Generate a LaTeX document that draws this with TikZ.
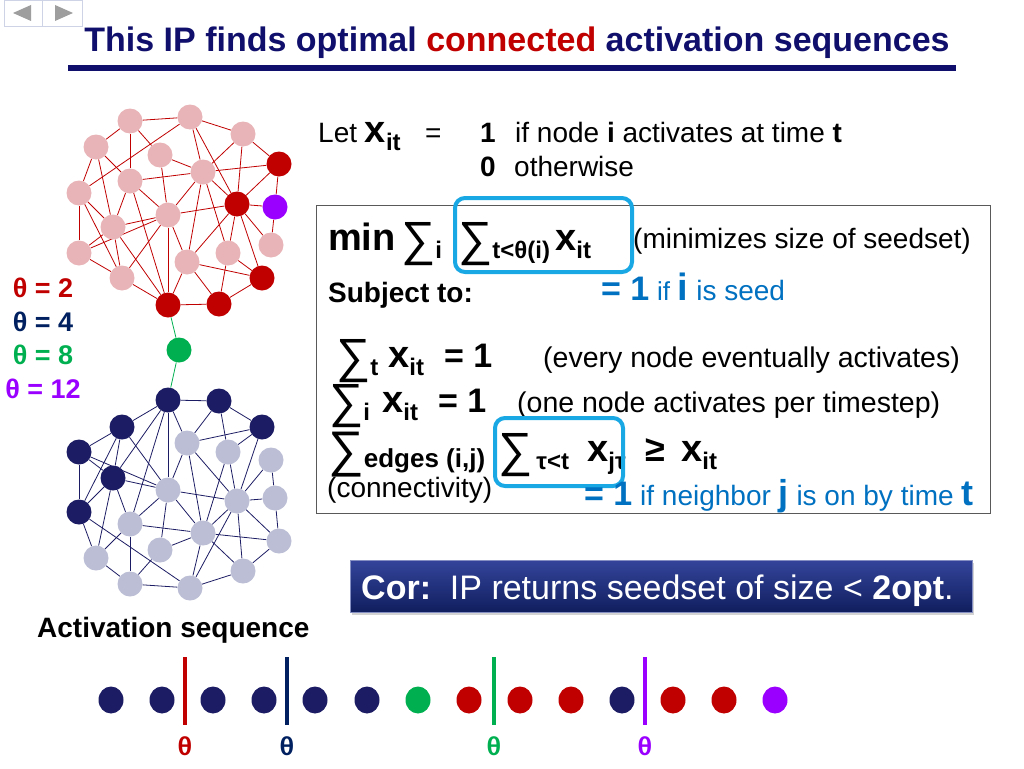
\documentclass[tikz,border=0pt]{standalone}
\usepackage{fontspec}
\setmainfont{Liberation Sans}
\newfontfamily\monof{Liberation Mono}
\usetikzlibrary{shadows,shapes.geometric}
\pgfdeclarelayer{bg}
\pgfsetlayers{bg,main}
\definecolor{navyT}{HTML}{10106C}
\definecolor{redC}{HTML}{C00000}
\definecolor{navyN}{HTML}{1C1C64}
\definecolor{navyL}{HTML}{002060}
\definecolor{greenC}{HTML}{00B050}
\definecolor{purpC}{HTML}{9900FF}
\definecolor{pinkN}{HTML}{E8B4B8}
\definecolor{grayN}{HTML}{BCBED6}
\definecolor{blueT}{HTML}{0070C0}
\definecolor{cyanB}{HTML}{1AA8E4}
\definecolor{navBd}{HTML}{CFD3E6}
\definecolor{corTop}{HTML}{34449A}
\definecolor{corBot}{HTML}{101E5E}
\newcommand\FS[1]{\fontsize{#1}{#1}\selectfont}
\newcommand\SumG{\raisebox{-5pt}{\FS{48}∑}}
\newcommand\XB{{\FS{38}\bfseries x}}
\newcommand\Sb[1]{\raisebox{-8pt}{\FS{24}\bfseries #1}}
\begin{document}
\begin{tikzpicture}[x=1pt,y=-1pt,
  tx/.style={inner sep=0pt, anchor=base west},
  nd/.style={circle, minimum size=25pt, inner sep=0pt},
  topedge/.style={draw=redC, line width=0.8pt},
  botedge/.style={draw=navyN, line width=0.8pt},
  dotn/.style={ellipse, minimum width=25pt, minimum height=27pt, inner sep=0pt},
  cyanbox/.style={draw=cyanB, line width=4pt, rounded corners=10pt},
  boxline/.style={draw=black!65, line width=1pt},
  legend/.style={anchor=base, inner sep=0pt, font=\FS{27}\bfseries},
  thlab/.style={anchor=base, inner sep=0pt, font=\monof\bfseries\FS{26}},
  bar/.style={line width=4.5pt}]
\useasboundingbox (0,0) rectangle (1024,768);
% nav buttons
\draw[navBd, fill=white] (4,0) rectangle (42,26);
\draw[navBd, fill=white] (42,0) rectangle (82,26);
\fill[black!38] (13,13) -- (31,5) -- (31,21) -- cycle;
\fill[black!38] (73,13) -- (55,5) -- (55,21) -- cycle;
% title
\node[anchor=base, inner sep=0pt, font=\FS{34}\bfseries, text=navyT] (title) at (517,52)
  {This IP finds optimal \textcolor{redC}{connected} activation sequences};
\draw[navyT, line width=6pt] (68,68) -- (956,68);
% networks
\foreach \n/\x/\y/\ct/\cb in {1/168/400/redC/navyN, 2/219/401/redC/navyN, 3/262/427/redC/navyN,
  4/122/427/pinkN/navyN, 5/79/452/pinkN/navyN, 6/113/478/pinkN/navyN, 7/79/512/pinkN/navyN,
  8/187/443/pinkN/grayN, 9/228/452/pinkN/grayN, 10/271/460/pinkN/grayN, 11/168/490/pinkN/grayN,
  12/237/501/redC/grayN, 13/275/498/purpC/grayN, 14/130/524/pinkN/grayN, 15/203/533/pinkN/grayN,
  16/160/550/pinkN/grayN, 17/279/541/redC/grayN, 18/96/558/pinkN/grayN, 19/243/571/pinkN/grayN,
  20/130/584/pinkN/grayN, 21/190/588/pinkN/grayN}
{
  \node[nd, fill=\cb] (b\n) at (\x,\y) {};
  \node[nd, fill=\ct] (t\n) at (\x,{705-\y}) {};
}
\node[nd, fill=greenC] (gr) at (179,350) {};
\begin{pgfonlayer}{bg}
\foreach \a/\b in {1/2,1/4,1/6,1/11,1/8,1/14,2/3,2/8,2/9,3/8,3/9,3/12,4/5,4/6,4/11,4/7,
  5/6,5/7,5/11,6/7,6/11,6/14,6/18,7/18,7/21,8/12,8/15,8/11,9/12,9/15,10/12,10/13,
  11/12,11/15,11/16,11/14,12/13,12/15,12/17,12/19,12/21,13/17,14/15,14/20,14/18,
  15/16,15/17,15/19,15/21,16/20,17/19,18/20,19/21,20/21}
{
  \draw[topedge] (t\a) -- (t\b);
  \draw[botedge] (b\a) -- (b\b);
}
\draw[greenC, line width=0.8pt] (t1) -- (gr) -- (b1);
\end{pgfonlayer}
% legend
\node[legend, text=redC] (l2) at (43,297) {θ = 2};
\node[legend, text=navyL] (l4) at (43,331) {θ = 4};
\node[legend, text=greenC] (l8) at (43,364) {θ = 8};
\node[legend, text=purpC] (l12) at (43,398) {θ = 12};
% definitions
\node[tx, font=\FS{28}] (let) at (318,142) {Let \XB\Sb{it}};
\node[tx, font=\FS{28}] (eq) at (425,142) {=};
\node[tx, font=\FS{28}\bfseries] (one) at (480,142) {1};
\node[tx, font=\FS{28}] (ifnode) at (515,142) {if node \textbf{i} activates at time \textbf{t}};
\node[tx, font=\FS{28}\bfseries] (zero) at (480,176) {0};
\node[tx, font=\FS{28}] (oth) at (514,176) {otherwise};
% IP box
\draw[boxline] (316,205) rectangle (990,513);
\node[tx, font=\FS{38}\bfseries] (min) at (328,250) {min};
\node[tx] (sumi) at (401,250) {\SumG\Sb{i}};
\node[tx] (sumt) at (458,250) {\SumG\Sb{t<θ(i)}};
\node[tx] (xmin) at (555,250) {\XB\Sb{it}};
\node[tx, font=\FS{28}] (minz) at (633,248) {(minimizes size of seedset)};
\draw[cyanbox] (455,198) rectangle (632,272);
\node[tx, font=\FS{28}\bfseries] (subj) at (328,302) {Subject to:};
\node[tx, text=blueT, font=\FS{28}] (seed) at (601,300)
  {{\FS{34}\bfseries = 1} {\FS{26}if} {\FS{38}\bfseries i} is seed};
\node[tx] (r1s) at (336,367) {\SumG\Sb{t}};
\node[tx] (r1x) at (388,367) {\XB\Sb{it}};
\node[tx, font=\FS{34}\bfseries] (r1e) at (444,367) {= 1};
\node[tx, font=\FS{28.5}] (r1c) at (543,367) {(every node eventually activates)};
\node[tx] (r2s) at (329,412) {\SumG\Sb{i}};
\node[tx] (r2x) at (382,412) {\XB\Sb{it}};
\node[tx, font=\FS{34}\bfseries] (r2e) at (438,412) {= 1};
\node[tx, font=\FS{28.5}] (r2c) at (517,412) {(one node activates per timestep)};
\node[tx] (r3s) at (328,461) {\raisebox{-5pt}{\FS{50}∑}\raisebox{-6pt}{\FS{26}\bfseries edges (i,j)}};
\node[tx] (r3t) at (498,461) {\SumG\Sb{\,τ<t}};
\node[tx] (r3x) at (587,461) {\XB\Sb{jτ}};
\node[tx, font=\FS{36}\bfseries] (r3g) at (645,461) {≥};
\node[tx] (r3xx) at (681,461) {\XB\Sb{it}};
\draw[cyanbox] (495,418) rectangle (623,486);
\node[tx, font=\FS{28}] (conn) at (327,497) {(connectivity)};
\node[tx, text=blueT, font=\FS{28}] (neigh) at (584,505)
  {{\FS{34}\bfseries = 1} if neighbor {\FS{36}\bfseries j} is on by time {\FS{36}\bfseries t}};
% corollary
\node[draw=corTop!60!white, line width=0.6pt, top color=corTop, bottom color=corBot,
  minimum width=622pt, minimum height=52pt, anchor=north west, inner sep=0pt,
  drop shadow={shadow xshift=2pt, shadow yshift=-3pt, opacity=0.35}] (cor) at (350,560) {};
\node[tx, text=white, font=\FS{34}] (cort) at (361,599)
  {\textbf{Cor:}\ \ IP returns seedset of size < \textbf{2opt}.};
% activation sequence
\node[tx, font=\FS{28}\bfseries] (act) at (37,637) {Activation sequence};
\foreach \i/\x/\c in {1/111/navyN, 2/162/navyN, 3/213/navyN, 4/264/navyN, 5/315/navyN,
  6/367/navyN, 7/418/greenC, 8/469/redC, 9/520/redC, 10/571/redC, 11/622/navyN,
  12/673/redC, 13/724/redC, 14/775/purpC}
  \node[dotn, fill=\c] (s\i) at (\x,700) {};
\draw[bar, redC] (185,657) -- (185,725);
\draw[bar, navyL] (287,657) -- (287,725);
\draw[bar, greenC] (494,657) -- (494,725);
\draw[bar, purpC] (645,657) -- (645,725);
\node[thlab, text=redC] (th1) at (185,755) {θ};
\node[thlab, text=navyL] (th2) at (287,755) {θ};
\node[thlab, text=greenC] (th3) at (494,755) {θ};
\node[thlab, text=purpC] (th4) at (645,755) {θ};
\end{tikzpicture}
\end{document}
